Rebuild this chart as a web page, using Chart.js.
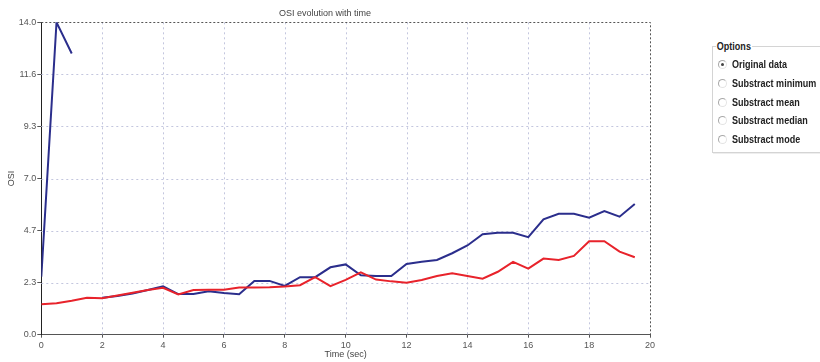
<!DOCTYPE html>
<html>
<head>
<meta charset="utf-8">
<script src="https://cdn.jsdelivr.net/npm/chart.js@4/dist/chart.umd.min.js"></script>
<style>
  html, body { margin: 0; padding: 0; background: #fff; }
  #wrap { position: relative; width: 820px; height: 362px; overflow: hidden; }
  #chart { position: absolute; left: 0; top: 0; }
  .opts {
    position: absolute; left: 712px; top: 46px; width: 130px; height: 105px;
    border: 1px solid #d4d4d4; box-shadow: 1px 1px 0 #eee;
    font-family: "Liberation Sans", Arial, sans-serif;
    font-weight: bold; font-size: 11px; color: #222;
  }
  .opts .cap { position: absolute; left: 3px; top: -8px; background: #fff; padding: 0 1px; line-height: 14px;
               transform: scaleX(0.82); transform-origin: left center; }
  .opts .item { position: absolute; left: 4px; height: 14px; line-height: 14px; white-space: nowrap; }
  .opts .dot {
    position: absolute; left: 1px; top: 3px; width: 7px; height: 7px; border-radius: 50%;
    border: 1px solid #a8a8a8; border-right-color: #e4e4e4; border-bottom-color: #e4e4e4;
  }
  .opts .dot.on::after {
    content: ""; position: absolute; left: 2px; top: 2px; width: 3px; height: 3px; border-radius: 50%; background: #444;
  }
  .opts .txt { position: absolute; left: 15px; top: 0; transform: scaleX(0.82); transform-origin: left center; }
</style>
</head>
<body>
<div id="wrap">
  <canvas id="chart" width="820" height="362"></canvas>
  <div class="opts" id="opts"><span class="cap">Options</span></div>
</div>
<script>
// Sample times (s), OSI values per series
const times = [0, 0.5, 1, 1.5, 2, 2.5, 3, 3.5, 4, 4.5, 5, 5.5, 6, 6.5, 7, 7.5, 8, 8.5, 9, 9.5,
               10, 10.5, 11, 11.5, 12, 12.5, 13, 13.5, 14, 14.5, 15, 15.5, 16, 16.5, 17, 17.5, 18, 18.5, 19, 19.5];
const osiBlue = [2.6, 14.0, 12.6, null, 1.66, 1.73, 1.85, 2.0, 2.17, 1.82, 1.82, 1.95, 1.87, 1.81, 2.41, 2.41, 2.19, 2.58, 2.58, 3.02,
                 3.15, 2.66, 2.63, 2.63, 3.17, 3.27, 3.35, 3.65, 4.0, 4.5, 4.57, 4.57, 4.37, 5.17, 5.42, 5.42, 5.24, 5.54, 5.29, 5.86];
const osiRed = [1.36, 1.41, 1.52, 1.66, 1.63, 1.76, 1.88, 2.0, 2.1, 1.8, 2.0, 2.01, 2.01, 2.12, 2.12, 2.13, 2.16, 2.22, 2.58, 2.18,
                2.46, 2.79, 2.47, 2.39, 2.33, 2.45, 2.63, 2.75, 2.63, 2.51, 2.82, 3.26, 2.96, 3.41, 3.35, 3.53, 4.19, 4.19, 3.72, 3.47];
const yTickValues = [0, 14 / 6, 28 / 6, 7, 56 / 6, 70 / 6, 14];
const yTickLabels = ["0.0", "2.3", "4.7", "7.0", "9.3", "11.6", "14.0"];
const xTickValues = [0, 2, 4, 6, 8, 10, 12, 14, 16, 18, 20];
const optionLabels = ["Original data", "Substract minimum", "Substract mean", "Substract median", "Substract mode"];

// Options group box
const box = document.getElementById('opts');
optionLabels.forEach((label, i) => {
  const it = document.createElement('div');
  it.className = 'item';
  it.style.top = (10 + i * 18.75) + 'px';
  it.innerHTML = '<span class="dot' + (i === 0 ? ' on' : '') + '"></span><span class="txt"></span>';
  it.querySelector('.txt').textContent = label;
  box.appendChild(it);
});

const toPoints = ys => times.map((t, i) => ({ x: t, y: ys[i] }));

const tickFont = { family: "'Liberation Sans', Arial, sans-serif", size: 9 };
const gridColor = '#c3c6de';
const frameColor = '#555';

// Dotted grid plus dotted top/right frame, drawn under the data lines
const dottedGrid = {
  id: 'dottedGrid',
  beforeDatasetsDraw(c) {
    const { ctx, chartArea: a, scales: { x, y } } = c;
    ctx.save();
    ctx.lineWidth = 1;
    ctx.setLineDash([2, 3]);
    ctx.strokeStyle = gridColor;
    xTickValues.slice(1, -1).forEach(v => {
      const px = Math.round(x.getPixelForValue(v)) + 0.5;
      ctx.beginPath(); ctx.moveTo(px, a.top); ctx.lineTo(px, a.bottom); ctx.stroke();
    });
    yTickValues.slice(1, -1).forEach(v => {
      const py = Math.round(y.getPixelForValue(v)) + 0.5;
      ctx.beginPath(); ctx.moveTo(a.left, py); ctx.lineTo(a.right, py); ctx.stroke();
    });
    ctx.setLineDash([2, 2]);
    ctx.strokeStyle = frameColor;
    const top = Math.round(y.getPixelForValue(14)) + 0.5;
    const right = Math.round(x.getPixelForValue(20)) + 0.5;
    ctx.beginPath(); ctx.moveTo(a.left, top); ctx.lineTo(right, top); ctx.lineTo(right, a.bottom); ctx.stroke();
    ctx.restore();
  }
};

new Chart(document.getElementById('chart'), {
  type: 'line',
  data: {
    datasets: [
      { data: toPoints(osiRed), borderColor: '#e8232b', borderWidth: 2, pointRadius: 0, tension: 0, spanGaps: false },
      { data: toPoints(osiBlue), borderColor: '#2b2e8c', borderWidth: 2, pointRadius: 0, tension: 0, spanGaps: false }
    ]
  },
  options: {
    responsive: false,
    animation: false,
    layout: { padding: { left: 0, right: 170, top: 0, bottom: 0 } },
    plugins: {
      legend: { display: false },
      tooltip: { enabled: false },
      title: {
        display: true, text: 'OSI evolution with time', color: '#444',
        font: { family: "'Liberation Sans', Arial, sans-serif", size: 9, weight: 'normal' },
        padding: { top: 8, bottom: 3.5 }
      }
    },
    scales: {
      x: {
        type: 'linear', min: 0, max: 20,
        afterFit: s => { s.height = 27.3; },
        afterBuildTicks: s => { s.ticks = xTickValues.map(v => ({ value: v })); },
        ticks: { color: '#555', font: tickFont, padding: 2, maxRotation: 0, callback: v => String(v) },
        grid: { drawOnChartArea: false, tickLength: 3, tickColor: frameColor },
        border: { display: true, color: frameColor, dash: [2, 2], width: 1 },
        title: {
          display: true, text: 'Time (sec)', color: '#444',
          font: { family: "'Liberation Sans', Arial, sans-serif", size: 9 },
          padding: { top: 0, bottom: 1.6 }
        }
      },
      y: {
        min: 0, max: 14,
        afterFit: s => { s.width = 41.3; },
        afterBuildTicks: s => { s.ticks = yTickValues.map(v => ({ value: v })); },
        ticks: {
          color: '#555', font: tickFont, padding: 1,
          callback: (v, i) => yTickLabels[i]
        },
        grid: { drawOnChartArea: false, tickLength: 4, tickColor: frameColor },
        border: { display: true, color: '#222', width: 1 },
        title: {
          display: true, text: 'OSI', color: '#444',
          font: { family: "'Liberation Sans', Arial, sans-serif", size: 9 },
          padding: { top: 6.6, bottom: 0 }
        }
      }
    }
  },
  plugins: [{
    id: 'bg',
    beforeDraw: c => {
      const g = c.ctx; g.save(); g.fillStyle = '#fff'; g.fillRect(0, 0, c.width, c.height); g.restore();
    }
  }, dottedGrid]
});
</script>
</body>
</html>
